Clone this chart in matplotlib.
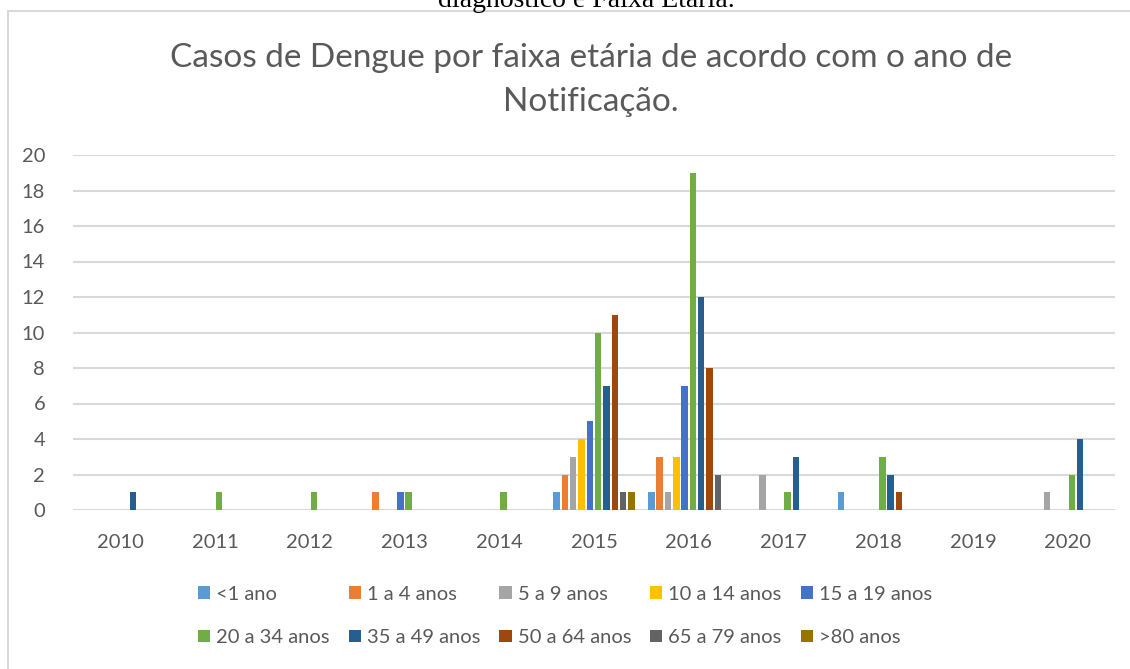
import matplotlib.pyplot as plt
import numpy as np
from matplotlib.patches import Rectangle

# Dados
anos = ['2010', '2011', '2012', '2013', '2014', '2015', '2016', '2017', '2018', '2019', '2020']
faixas = ['<1 ano', '1 a 4 anos', '5 a 9 anos', '10 a 14 anos', '15 a 19 anos',
          '20 a 34 anos', '35 a 49 anos', '50 a 64 anos', '65 a 79 anos', '>80 anos']
casos_menor1 = [0, 0, 0, 0, 0, 1, 1, 0, 1, 0, 0]
casos_1a4 = [0, 0, 0, 1, 0, 2, 3, 0, 0, 0, 0]
casos_5a9 = [0, 0, 0, 0, 0, 3, 1, 2, 0, 0, 1]
casos_10a14 = [0, 0, 0, 0, 0, 4, 3, 0, 0, 0, 0]
casos_15a19 = [0, 0, 0, 1, 0, 5, 7, 0, 0, 0, 0]
casos_20a34 = [0, 1, 1, 1, 1, 10, 19, 1, 3, 0, 2]
casos_35a49 = [1, 0, 0, 0, 0, 7, 12, 3, 2, 0, 4]
casos_50a64 = [0, 0, 0, 0, 0, 11, 8, 0, 1, 0, 0]
casos_65a79 = [0, 0, 0, 0, 0, 1, 2, 0, 0, 0, 0]
casos_80mais = [0, 0, 0, 0, 0, 1, 0, 0, 0, 0, 0]

series = [casos_menor1, casos_1a4, casos_5a9, casos_10a14, casos_15a19,
          casos_20a34, casos_35a49, casos_50a64, casos_65a79, casos_80mais]
cores = ['#5B9BD5', '#ED7D31', '#A5A5A5', '#FFC000', '#4472C4',
         '#70AD47', '#255E91', '#9E480E', '#636363', '#997300']

fig = plt.figure(figsize=(11.3, 6.69), dpi=100)
plt.rcParams['font.family'] = ['Lato', 'DejaVu Sans']

# moldura do gráfico
fig.patches.append(Rectangle((8 / 1130, -0.05), 1.1, 1 - 11 / 669 + 0.05,
                             transform=fig.transFigure, fill=False,
                             edgecolor='#D9D9D9', linewidth=1.5))

# texto cortado no topo (legenda da figura no documento original)
fig.text(0.519, 1 - 7 / 669, 'diagnóstico e Faixa Etária.', family='Liberation Serif',
         fontsize=20, ha='center', va='baseline', color='black')

ax = fig.add_axes([73 / 1130, 1 - 510 / 669, (1115 - 73) / 1130, (510 - 155) / 669])

x = np.arange(len(anos))
slot = 0.877 / len(series)
for i, (valores, cor, nome) in enumerate(zip(series, cores, faixas)):
    ax.bar(x + (i - 4.5) * slot, valores, width=slot * 0.78, color=cor, label=nome, zorder=3)

ax.set_xlim(-0.5, len(anos) - 0.5)
ax.set_ylim(0, 20)
ax.set_yticks(range(0, 21, 2))
ax.set_xticks(x)
ax.set_xticklabels(anos)
ax.grid(axis='y', color='#D9D9D9', linewidth=1.5, zorder=0)
for s in ax.spines.values():
    s.set_visible(False)
ax.tick_params(length=0, labelsize=14.5, labelcolor='#595959')
ax.tick_params(axis='y', pad=20)
ax.tick_params(axis='x', pad=17)

fig.text(0.523, 1 - 58 / 669, 'Casos de Dengue por faixa etária de acordo com o ano de',
         ha='center', va='center', fontsize=24, color='#595959')
fig.text(0.523, 1 - 102 / 669, 'Notificação.',
         ha='center', va='center', fontsize=24, color='#595959')

handles, labels = ax.get_legend_handles_labels()
ordem = [0, 5, 1, 6, 2, 7, 3, 8, 4, 9]
leg = fig.legend([handles[k] for k in ordem], [labels[k] for k in ordem], ncol=5,
                 loc='center', bbox_to_anchor=(0.5, 1 - 616 / 669), frameon=False,
                 fontsize=14.5, handlelength=0.6, handleheight=0.6, handletextpad=0.3,
                 columnspacing=0.95, labelspacing=1.3)
for t in leg.get_texts():
    t.set_color('#595959')

fig.savefig('out.png', dpi=100)
